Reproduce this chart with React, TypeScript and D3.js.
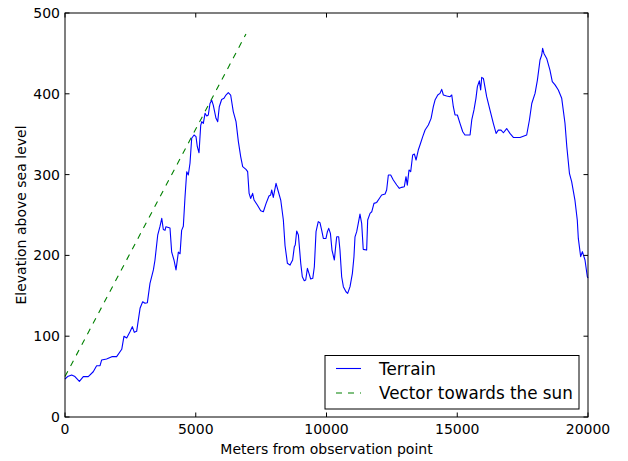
import React, { useRef, useEffect } from "react";
import * as d3 from "d3";

// Terrain profile (meters, elevation)
const terrainDistance = [
  0, 100, 255, 380, 550, 700, 890, 1080, 1210, 1340, 1400, 1590, 1790, 1975,
  2170, 2256, 2360, 2485, 2575, 2650, 2740, 2870, 2970, 3060, 3150, 3250, 3380,
  3440, 3545, 3630, 3700, 3760, 3825, 3860, 4015, 4080, 4170, 4245, 4335, 4400,
  4460, 4525, 4590, 4655, 4715, 4780, 4845, 4935, 5010, 5060, 5125, 5190, 5230,
  5290, 5355, 5420, 5480, 5545, 5610, 5670, 5775, 5840, 5900, 5990, 6080, 6155,
  6245, 6335, 6435, 6540, 6630, 6720, 6795, 6920, 6985, 7040, 7100, 7175, 7230,
  7355, 7485, 7585, 7690, 7800, 7865, 7905, 7965, 8070, 8160, 8250, 8350, 8415,
  8505, 8605, 8705, 8770, 8805, 8860, 8925, 9015, 9075, 9150, 9205, 9270, 9330,
  9395, 9475, 9535, 9600, 9685, 9750, 9815, 9880, 9980, 10035, 10085, 10150,
  10210, 10300, 10350, 10390, 10465, 10515, 10580, 10645, 10745, 10810, 10900,
  10990, 11050, 11090, 11155, 11215, 11280, 11345, 11405, 11535, 11575, 11665,
  11730, 11815, 11920, 12020, 12110, 12240, 12300, 12365, 12455, 12555, 12685,
  12785, 12875, 12975, 13040, 13090, 13155, 13220, 13295, 13360, 13425, 13510,
  13575, 13680, 13770, 13895, 14000, 14085, 14150, 14255, 14340, 14405, 14470,
  14595, 14725, 14790, 14850, 14915, 15005, 15105, 15210, 15295, 15490, 15555,
  15640, 15715, 15770, 15845, 15895, 15935, 16000, 16125, 16250, 16380, 16485,
  16570, 16675, 16765, 16890, 17015, 17145, 17400, 17655, 17760, 17850, 17975,
  18065, 18165, 18230, 18265, 18315, 18420, 18545, 18635, 18740, 18865, 18995,
  19120, 19190, 19290, 19375, 19500, 19590, 19630, 19720, 19785, 19885, 19975,
  20000,
];
const terrainElevation = [
  47, 50, 52, 50, 44, 50, 50, 56, 63.5, 63.5, 70.5, 71.8, 74.7, 74.7, 83.8, 100,
  97.8, 105.6, 111.8, 104.8, 106, 134.5, 142.7, 140.7, 141.5, 165.4, 182, 194,
  225, 235.5, 245.8, 232, 231, 235.5, 234, 204, 194, 182, 204, 202, 231, 236,
  272.6, 303.6, 299.5, 314, 345, 349, 347, 334.5, 327, 361, 365.5, 363.5, 375.8,
  372.5, 373.8, 388, 392, 386, 369.6, 365.5, 384, 393, 394.4, 398.5, 401.5,
  398.5, 378, 365.5, 340.8, 322, 309.8, 306.5, 303.6, 276.8, 270.5, 276.8,
  268.5, 262.4, 255.3, 254, 264.4, 273.5, 274.8, 281, 271.8, 289.2, 278.8,
  268.5, 243.8, 212, 190.2, 188, 194.3, 210.8, 212.9, 230.2, 225.2, 190.2,
  173.6, 168.7, 169.5, 184, 177.8, 170.8, 171.6, 186, 229.4, 241.8, 240.5,
  231.4, 221, 221, 229.4, 233.5, 227.2, 206.6, 194.3, 210.8, 223, 223, 206.6,
  173.6, 161.3, 155, 153, 161.3, 177.8, 198.4, 223, 229.4, 239.6, 251.2, 239.6,
  207.5, 206.6, 243.8, 252, 254, 264.4, 265.6, 270.5, 274.8, 276, 281, 299.5,
  299.5, 293.3, 287.1, 283, 284.2, 285, 297.4, 287, 305.7, 303.6, 324.3, 325.5,
  318, 330.4, 336.6, 347, 355.2, 361.4, 369.6, 384, 392.3, 398.5, 400.5, 405.5,
  398.5, 397.3, 396.4, 398.5, 384, 373.8, 373.8, 363.5, 353, 349, 349, 367.6,
  380, 394.4, 408.8, 416, 404.7, 420.3, 419, 396.4, 380, 363.5, 351, 355, 355,
  351.8, 357, 351, 346, 346, 349, 367.6, 388, 400.5, 417, 441.8, 448, 456.3,
  450, 443.8, 429.4, 415, 411, 404.7, 394.4, 363.5, 334.5, 301.6, 291.2, 268.5,
  243.8, 221, 198.4, 204.6, 194.3, 173.6, 172,
];

// Sun vector end points
const sunDistance = [0, 6920];
const sunElevation = [50, 474];

const xTicks = [0, 5000, 10000, 15000, 20000];
const yTicks = [0, 100, 200, 300, 400, 500];
const legendLabels = ["Terrain", "Vector towards the sun"];

function TerrainChart({ width, height }) {
  const svgRef = useRef(null);

  useEffect(() => {
    const svg = d3.select(svgRef.current);
    svg.selectAll("*").remove();

    const margin = { left: 65, right: width - 588, top: 13, bottom: height - 417 };
    const font = "DejaVu Sans, sans-serif";
    const fontSize = "14px";
    const tickLen = 4.5;

    const x = d3.scaleLinear().domain([0, 20000]).range([margin.left, width - margin.right]);
    const y = d3.scaleLinear().domain([0, 500]).range([height - margin.bottom, margin.top]);

    const line = d3
      .line()
      .x((d) => x(d[0]))
      .y((d) => y(d[1]));

    const terrain = terrainDistance.map((d, i) => [d, terrainElevation[i]]);
    const sun = sunDistance.map((d, i) => [d, sunElevation[i]]);

    const [x0, x1] = x.range();
    const [y0, y1] = y.range();

    svg
      .append("path")
      .datum(sun)
      .attr("fill", "none")
      .attr("stroke", "#008000")
      .attr("stroke-width", 1.1)
      .attr("stroke-dasharray", "6,6")
      .attr("d", line);

    svg
      .append("path")
      .datum(terrain)
      .attr("fill", "none")
      .attr("stroke", "#0000ff")
      .attr("stroke-width", 1.1)
      .attr("stroke-linejoin", "round")
      .attr("d", line);

    // ticks on all four sides, pointing inward
    const ticks = svg.append("g").attr("stroke", "#000").attr("stroke-width", 1);
    xTicks.forEach((t) => {
      ticks.append("line").attr("x1", x(t)).attr("x2", x(t)).attr("y1", y0).attr("y2", y0 - tickLen);
      ticks.append("line").attr("x1", x(t)).attr("x2", x(t)).attr("y1", y1).attr("y2", y1 + tickLen);
    });
    yTicks.forEach((t) => {
      ticks.append("line").attr("x1", x0).attr("x2", x0 + tickLen).attr("y1", y(t)).attr("y2", y(t));
      ticks.append("line").attr("x1", x1).attr("x2", x1 - tickLen).attr("y1", y(t)).attr("y2", y(t));
    });

    svg
      .append("rect")
      .attr("x", x0)
      .attr("y", y1)
      .attr("width", x1 - x0)
      .attr("height", y0 - y1)
      .attr("fill", "none")
      .attr("stroke", "#000")
      .attr("stroke-width", 1);

    svg
      .selectAll("text.xtick")
      .data(xTicks)
      .enter()
      .append("text")
      .attr("class", "xtick")
      .attr("x", (d) => x(d))
      .attr("y", y0 + 17)
      .attr("text-anchor", "middle")
      .style("font-family", font)
      .style("font-size", fontSize)
      .text((d) => d);

    svg
      .selectAll("text.ytick")
      .data(yTicks)
      .enter()
      .append("text")
      .attr("class", "ytick")
      .attr("x", x0 - 5)
      .attr("y", (d) => y(d) + 5)
      .attr("text-anchor", "end")
      .style("font-family", font)
      .style("font-size", fontSize)
      .text((d) => d);

    svg
      .append("text")
      .attr("x", (x0 + x1) / 2)
      .attr("y", 453.5)
      .attr("text-anchor", "middle")
      .style("font-family", font)
      .style("font-size", fontSize)
      .text("Meters from observation point");

    svg
      .append("text")
      .attr("transform", `translate(26, ${(y0 + y1) / 2}) rotate(-90)`)
      .attr("text-anchor", "middle")
      .style("font-family", font)
      .style("font-size", fontSize)
      .text("Elevation above sea level");

    // Legend
    const legend = svg.append("g");
    legend
      .append("rect")
      .attr("x", 325)
      .attr("y", 355.5)
      .attr("width", 254)
      .attr("height", 53.5)
      .attr("fill", "#fff")
      .attr("stroke", "#000")
      .attr("stroke-width", 1);

    const styles = [
      { color: "#0000ff", dash: null },
      { color: "#008000", dash: "6,6" },
    ];
    legendLabels.forEach((label, i) => {
      const cy = 368.5 + i * 24.5;
      legend
        .append("line")
        .attr("x1", 336)
        .attr("x2", 361)
        .attr("y1", cy)
        .attr("y2", cy)
        .attr("stroke", styles[i].color)
        .attr("stroke-width", 1.1)
        .attr("stroke-dasharray", styles[i].dash);
      legend
        .append("text")
        .attr("x", 379)
        .attr("y", cy + 6)
        .style("font-family", font)
        .style("font-size", "16.8px")
        .text(label);
    });
  }, [width, height]);

  return (
    <svg
      ref={svgRef}
      width={width}
      height={height}
      style={{ position: "absolute", left: 0, top: 0, background: "#fff" }}
    ></svg>
  );
}

export default function App() {
  return <TerrainChart width={628} height={461} />;
}
